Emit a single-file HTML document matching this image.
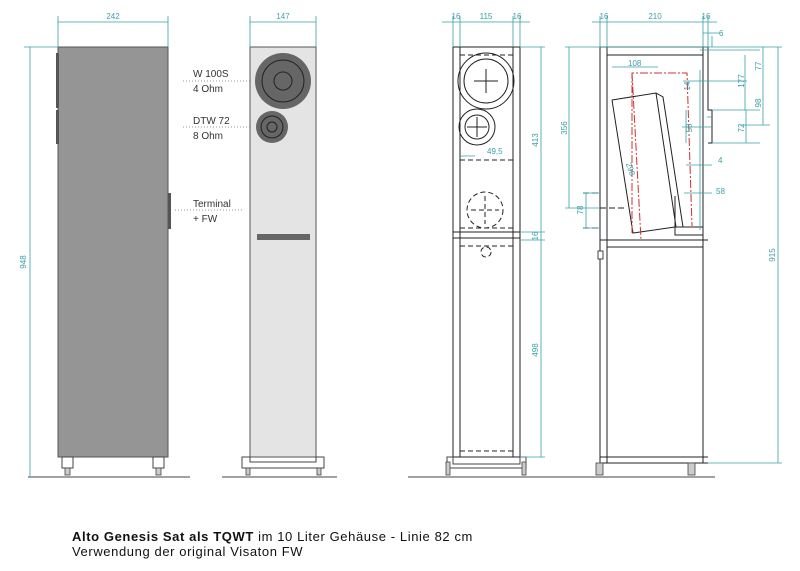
<!DOCTYPE html>
<html><head><meta charset="utf-8"><style>
html,body{margin:0;padding:0;background:#fff;}
svg{display:block;}
text{font-family:"Liberation Sans",sans-serif;}
.d{stroke:#3aa0a8;stroke-width:0.8;fill:none;}
.dt{fill:#3aa0a8;font-size:8px;font-family:"Liberation Sans Narrow","Liberation Sans",sans-serif;}
.k{stroke:#222;stroke-width:1;fill:none;}
.dash{stroke:#222;stroke-width:1;fill:none;stroke-dasharray:5,3;}
.red{stroke:#d03030;stroke-width:1;fill:none;stroke-dasharray:8,2,2,2;}
.lab{font-size:10px;fill:#333;font-family:"Liberation Sans Narrow","Liberation Sans",sans-serif;}
</style></head><body>
<svg width="800" height="571" viewBox="0 0 800 571" xmlns="http://www.w3.org/2000/svg">
<rect x="58" y="47" width="110" height="410" fill="#959595" stroke="#555" stroke-width="1"/>
<rect x="56" y="53" width="3" height="55" fill="#555"/>
<rect x="56" y="110" width="3" height="34" fill="#555"/>
<rect x="168" y="193" width="3" height="36" fill="#555"/>
<rect x="62" y="457" width="11" height="11" fill="#fff" stroke="#444"/>
<rect x="153" y="457" width="11" height="11" fill="#fff" stroke="#444"/>
<rect x="65" y="468" width="5" height="7" fill="#ccc" stroke="#444" stroke-width="0.8"/>
<rect x="156" y="468" width="5" height="7" fill="#ccc" stroke="#444" stroke-width="0.8"/>
<line x1="28" y1="477" x2="190" y2="477" stroke="#444"/>
<path class="d" d="M58 16V47M168 16V47M58 22H168M24 47H58M30 47V477"/>
<text class="dt" x="113" y="19" text-anchor="middle">242</text>
<text class="dt" x="26" y="262" transform="rotate(-90 26 262)" text-anchor="middle">948</text>
<rect x="250" y="47" width="66" height="410" fill="#e4e4e4" stroke="#555"/>
<circle cx="283" cy="81" r="28" fill="#666"/>
<circle cx="283" cy="81" r="21" fill="none" stroke="#222"/>
<circle cx="283" cy="81" r="9" fill="none" stroke="#222"/>
<circle cx="272" cy="127" r="16" fill="#666"/>
<circle cx="272" cy="127" r="11" fill="none" stroke="#222"/>
<circle cx="272" cy="127" r="5" fill="none" stroke="#222"/>
<rect x="257" y="234" width="53" height="6" fill="#666"/>
<path d="M242 457H250V462H316V457H324V468H242Z" fill="#fff" stroke="#444"/>
<rect x="246" y="468" width="4" height="7" fill="#ccc" stroke="#444" stroke-width="0.8"/>
<rect x="317" y="468" width="4" height="7" fill="#ccc" stroke="#444" stroke-width="0.8"/>
<line x1="222" y1="477" x2="337" y2="477" stroke="#444"/>
<path class="d" d="M250 16V47M316 16V47M250 22H316"/>
<text class="dt" x="283" y="19" text-anchor="middle">147</text>
<text class="lab" x="193" y="77">W 100S</text><text class="lab" x="193" y="92">4 Ohm</text>
<text class="lab" x="193" y="124">DTW 72</text><text class="lab" x="193" y="139">8 Ohm</text>
<text class="lab" x="193" y="207">Terminal</text><text class="lab" x="193" y="222">+ FW</text>
<path d="M183 81H250M183 127H250M175 210H242" stroke="#777" stroke-width="0.8" stroke-dasharray="1,2"/>
<rect x="453" y="47" width="67" height="410" class="k"/>
<path class="k" d="M460 47V457M513 47V457M453 232H520M453 238H520"/>
<path class="dash" d="M460 55H513M460 160H513M460 228H513M460 246H513M460 451H513"/>
<circle cx="486" cy="81" r="28" class="k"/><circle cx="486" cy="81" r="22" class="k"/>
<path class="k" d="M474 81H498M486 69V93"/>
<circle cx="477" cy="127" r="18" class="k"/><circle cx="477" cy="127" r="12" class="k"/>
<path class="k" d="M467 127H487M477 117V137"/>
<circle cx="485" cy="210" r="18" class="dash"/>
<path class="dash" d="M471 210H499M485 196V224"/>
<circle cx="486" cy="252" r="5" class="dash"/>
<path d="M447 457H453V464H520V457H526V468H447Z" fill="#fff" stroke="#444"/>
<rect x="446" y="462" width="4" height="13" fill="#ccc" stroke="#444" stroke-width="0.8"/>
<rect x="522" y="462" width="4" height="13" fill="#ccc" stroke="#444" stroke-width="0.8"/>
<line x1="408" y1="477" x2="548" y2="477" stroke="#444"/>
<path class="d" d="M453 16V47M460 16V47M513 16V47M520 16V47M442 22H530M520 47H545M541 47V457M520 232H545M520 240H545M520 457H545M460 156H475"/>
<text class="dt" x="456" y="19" text-anchor="middle">16</text>
<text class="dt" x="486" y="19" text-anchor="middle">115</text>
<text class="dt" x="517" y="19" text-anchor="middle">16</text>
<text class="dt" x="487" y="154">49,5</text>
<text class="dt" x="538" y="140" transform="rotate(-90 538 140)" text-anchor="middle">413</text>
<text class="dt" x="538" y="350" transform="rotate(-90 538 350)" text-anchor="middle">498</text>
<text class="dt" x="538" y="236" transform="rotate(-90 538 236)" text-anchor="middle">16</text>
<path class="k" d="M600 47V463M607 47V463M703 47V463M708 47V110M600 47H708M607 55H703M600 240H708M607 247H703M600 457H708M600 463H708"/>
<path class="k" d="M708 55V110H712V143H708"/>
<path class="k" d="M612 100L633 233L675 227M612 100L656 93L663 97L683 227M656 93L676 227M675 196V235H703M675 227H703"/>
<path class="red" d="M632 233V73H687L692 226M632 73L641 240"/>
<path class="k" d="M583 193H600M583 228H600M600 208H627" stroke-dasharray="6,3"/>
<rect x="598" y="251" width="5" height="8" fill="#fff" stroke="#444"/>
<rect x="596" y="463" width="7" height="12" fill="#ccc" stroke="#444" stroke-width="0.8"/>
<rect x="688" y="463" width="7" height="12" fill="#ccc" stroke="#444" stroke-width="0.8"/>
<line x1="518" y1="477" x2="715" y2="477" stroke="#444"/>
<path class="d" d="M600 16V47M607 16V47M703 16V47M708 16V47M592 22H717M712 36V47M703 33H720M565 47H782M569 47V208M565 208H600M778 47V463M708 463H782
M700 50H760M745 55V110M712 110H760M712 143H760M700 70V230M763 47V125M740 125H770
M683 81H747M746 110V143M707 117H712M686 110V143M682 127H712M686 165H712M684 193H712M612 67H658M586 193V228M583 193H600M583 228H600"/>
<text class="dt" x="604" y="19" text-anchor="middle">16</text>
<text class="dt" x="655" y="19" text-anchor="middle">210</text>
<text class="dt" x="706" y="19" text-anchor="middle">16</text>
<text class="dt" x="719" y="36">6</text>
<text class="dt" x="628" y="66">108</text>
<text class="dt" x="761" y="66" transform="rotate(-90 761 66)" text-anchor="middle">77</text>
<text class="dt" x="744" y="81" transform="rotate(-90 744 81)" text-anchor="middle">177</text>
<text class="dt" x="761" y="103" transform="rotate(-90 761 103)" text-anchor="middle">98</text>
<text class="dt" x="744" y="128" transform="rotate(-90 744 128)" text-anchor="middle">72</text>
<text class="dt" x="690" y="86" transform="rotate(-90 690 86)" text-anchor="middle">14</text>
<text class="dt" x="692" y="128" transform="rotate(-90 692 128)" text-anchor="middle">50</text>
<text class="dt" x="718" y="163">4</text>
<text class="dt" x="716" y="194">58</text>
<text class="dt" x="628" y="170" transform="rotate(70 628 170)" text-anchor="middle">298</text>
<text class="dt" x="567" y="128" transform="rotate(-90 567 128)" text-anchor="middle">356</text>
<text class="dt" x="583" y="210" transform="rotate(-90 583 210)" text-anchor="middle">78</text>
<text class="dt" x="775" y="255" transform="rotate(-90 775 255)" text-anchor="middle">915</text>
<text x="72" y="541" font-size="13" letter-spacing="0.6" fill="#111"><tspan font-weight="bold">Alto Genesis Sat als TQWT</tspan> im 10 Liter Gehäuse - Linie 82 cm</text>
<text x="72" y="556" font-size="13" letter-spacing="0.6" fill="#111">Verwendung der original Visaton FW</text>
</svg>
</body></html>
